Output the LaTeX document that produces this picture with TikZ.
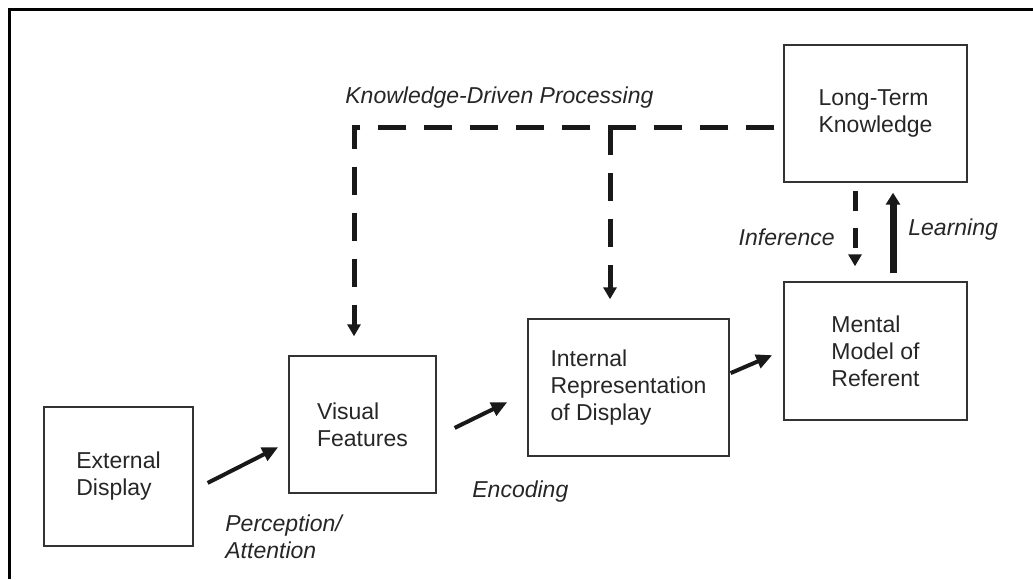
\documentclass[tikz,border=0pt]{standalone}
\usepackage{fontspec}
\setmainfont{Liberation Sans}
\usetikzlibrary{arrows.meta,calc}
\begin{document}
\begin{tikzpicture}[x=0.5pt,y=-0.5pt,
  font=\fontsize{11.5pt}{13.5pt}\selectfont,
  box/.style={draw=black!80, line width=0.7pt, inner sep=0pt, align=left, text=black!85},
  lbl/.style={font=\fontsize{11.5pt}{13.5pt}\selectfont\itshape, text=black!85, inner sep=0pt, align=left},
  flow/.style={line width=2pt, black!90, -{Triangle[length=8pt,width=7pt]}},
  know/.style={line width=2.5pt, black!90, dash pattern=on 14pt off 9pt, -{Triangle[length=6pt,width=6.5pt]}},
]
\useasboundingbox (0,0) rectangle (1033,579);

% outer frame (top and left edges)
\draw[line width=1.3pt] (9.5,579) -- (9.5,9.5) -- (1033,9.5);

% boxes
\node[box, minimum width=74.5pt, minimum height=69.5pt] (ext) at (118.5,476.5) {External\\Display};
\node[box, minimum width=73.5pt, minimum height=68.5pt] (vf)  at (362.5,424.5) {Visual\\Features};
\node[box, minimum width=100.5pt, minimum height=68.5pt] (ir) at (628.5,387.5) {Internal\\Representation\\of Display};
\node[box, minimum width=91.5pt, minimum height=69pt] (mm)   at (875.5,351) {Mental\\Model of\\Referent};
\node[box, minimum width=91.5pt, minimum height=68.5pt] (lt) at (875.5,113.5) {Long-Term\\Knowledge};

% bottom-up processing chain
\draw[flow, shorten <=7.8pt, shorten >=5.6pt] ($(ext.east)+(0,13.5)$) -- ($(vf.west)+(0,17.5)$);
\draw[flow, shorten <=10pt, shorten >=11.1pt] ($(vf.east)+(0,12.2)$) -- ($(ir.west)+(0,4.9)$);
\draw[flow, shorten <=0.5pt, shorten >=6pt] ($(ir.east)+(0,-14)$) -- ($(mm.west)+(0,-0.6)$);

% knowledge-driven feedback
\coordinate (kstart) at ($(lt.west)+(0,13.5)$);
\coordinate (vfin) at ($(vf.north)+(-8.5,0)$);
\coordinate (irin) at ($(ir.north)+(-18.5,0)$);
\draw[know, shorten <=4.5pt, shorten >=9.5pt] (kstart) -| (vfin);
\draw[know, shorten >=9.5pt] (irin |- kstart) -- (irin);

% inference and learning
\coordinate (infx) at ($(lt.south)+(-20.5,0)$);
\coordinate (lrnx) at ($(mm.north)+(17.5,0)$);
\draw[know, dash pattern=on 10pt off 8.5pt, shorten <=4pt, shorten >=7.5pt] (infx) -- (infx |- mm.north);
\draw[line width=3.5pt, black!90, -{Triangle[length=6pt,width=7pt]}, shorten <=4pt, shorten >=5pt] (lrnx) -- (lrnx |- lt.south);

% labels
\node[lbl, anchor=west] (kdp) at (345,98) {Knowledge-Driven Processing};
\node[lbl, anchor=east] (inf) at (835,237) {Inference};
\node[lbl, anchor=west] (lrn) at (908,230) {Learning};
\node[lbl, anchor=west] (pa)  at (225,536.5) {Perception/\\Attention};
\node[lbl, anchor=west] (enc) at (472,492) {Encoding};
\end{tikzpicture}
\end{document}
